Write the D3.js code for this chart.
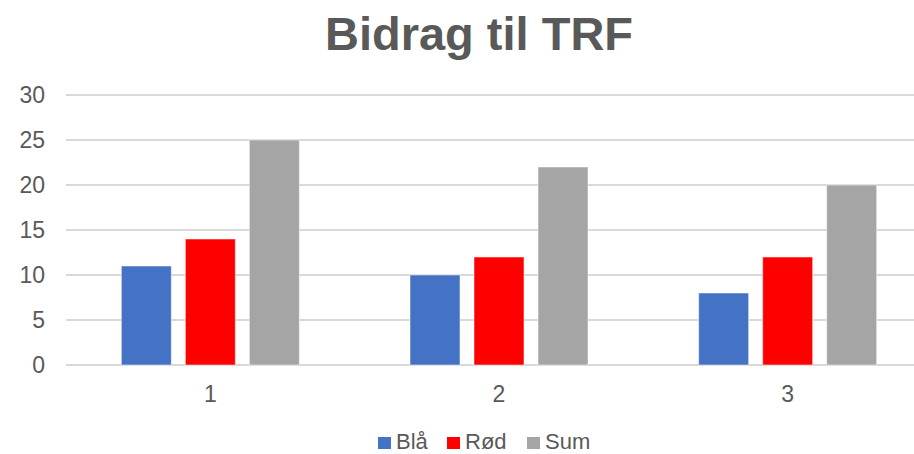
<!DOCTYPE html>
<html>
<head>
<meta charset="utf-8">
<script src="https://cdn.jsdelivr.net/npm/d3@7"></script>
<style>
  html, body { margin: 0; padding: 0; background: #fff; }
  svg { display: block; font-family: "Liberation Sans", Arial, sans-serif; }
</style>
</head>
<body>
<svg id="chart" width="914" height="454"></svg>
<script>
const title = "Bidrag til TRF";
const categories = ["1", "2", "3"];
const seriesNames = ["Blå", "Rød", "Sum"];
const seriesColors = ["#4472C4", "#FF0000", "#A5A5A5"];
const blaValues = [11, 10, 8];
const rodValues = [14, 12, 12];
const sumValues = [25, 22, 20];
const yTicks = [0, 5, 10, 15, 20, 25, 30];

const seriesValues = [blaValues, rodValues, sumValues];
const data = categories.map((c, i) => ({
  cat: c,
  values: seriesNames.map((s, j) => ({ key: s, value: seriesValues[j][i], color: seriesColors[j] }))
}));

const svg = d3.select("#chart");
const textColor = "#595959";
const plot = { left: 66, right: 932, top: 95, bottom: 365 };

const x0 = d3.scaleBand().domain(categories).range([plot.left, plot.right]).padding(0);
const groupW = 178;
const x1 = d3.scaleBand().domain(seriesNames).range([0, groupW]).paddingInner(0.219).paddingOuter(0);
const y = d3.scaleLinear().domain([0, 30]).range([plot.bottom, plot.top]);

// Title
svg.append("text")
  .attr("x", 479).attr("y", 50)
  .attr("text-anchor", "middle")
  .attr("font-size", 47).attr("font-weight", "bold")
  .attr("fill", textColor)
  .text(title);

// Gridlines
svg.append("g").selectAll("line").data(yTicks).join("line")
  .attr("x1", plot.left).attr("x2", 914)
  .attr("y1", d => y(d)).attr("y2", d => y(d))
  .attr("stroke", "#D9D9D9").attr("stroke-width", 2);

// Y axis labels
const yAxis = d3.axisLeft(y).tickValues(yTicks).tickSize(0).tickPadding(0);
const gy = svg.append("g").attr("transform", `translate(45,0)`).call(yAxis);
gy.select(".domain").remove();
gy.selectAll("text").attr("font-size", 23).attr("fill", textColor)
  .attr("font-family", "'Liberation Sans', Arial, sans-serif");

// Bars
const groups = svg.append("g").selectAll("g").data(data).join("g")
  .attr("transform", d => `translate(${x0(d.cat) + (x0.bandwidth() - groupW) / 2},0)`);
groups.selectAll("rect").data(d => d.values).join("rect")
  .attr("x", d => x1(d.key))
  .attr("width", x1.bandwidth())
  .attr("y", d => y(d.value))
  .attr("height", d => y(0) - y(d.value))
  .attr("fill", d => d.color)
  .attr("stroke", "rgba(255,255,255,0.5)").attr("stroke-width", 1);

// X axis labels
const xAxis = d3.axisBottom(x0).tickSize(0).tickPadding(0);
const gx = svg.append("g").attr("transform", `translate(0,${plot.bottom})`).call(xAxis);
gx.select(".domain").remove();
gx.selectAll("text").attr("font-size", 23).attr("fill", textColor)
  .attr("dy", null).attr("y", 37)
  .attr("font-family", "'Liberation Sans', Arial, sans-serif");

// Legend
const legendX = [378, 447, 527];
const lg = svg.append("g").selectAll("g").data(seriesNames).join("g")
  .attr("transform", (d, i) => `translate(${legendX[i]},437)`);
lg.append("rect").attr("width", 13).attr("height", 12)
  .attr("fill", (d, i) => seriesColors[i]);
lg.append("text").attr("x", 18).attr("y", 12)
  .attr("font-size", 22).attr("fill", textColor)
  .text(d => d);
</script>
</body>
</html>
